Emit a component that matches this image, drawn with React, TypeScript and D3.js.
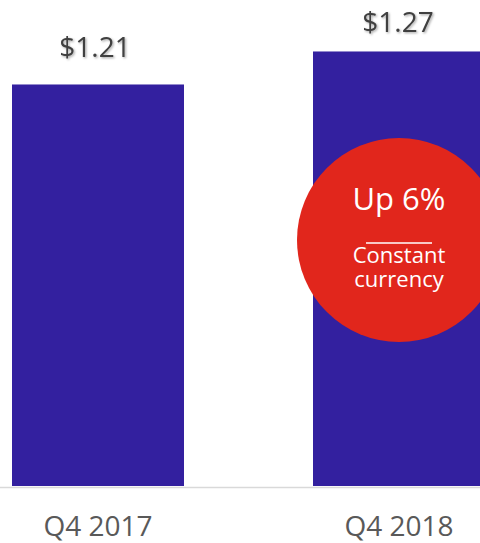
import React from "react";
import * as d3 from "d3";

const categories = ["Q4 2017", "Q4 2018"];
const values = [1.21, 1.27];
const valueLabels = ["$1.21", "$1.27"];
const badgeLines = ["Up 6%", "Constant", "currency"];

const W = 480;
const H = 543;
const FONT = "'Open Sans', 'Noto Sans', sans-serif";

export default function App() {
  const x = d3.scaleBand<string>().domain(categories).range([12, 485]).paddingInner(0.4286).paddingOuter(0);
  const baseY = 486;
  const y = d3.scaleLinear().domain([0.48, 1.3636]).range([baseY, 0]);
  const bw = x.bandwidth();
  const c2 = (x(categories[1]) as number) + bw / 2;
  const cy = 240;
  const labelGap = [27, 19];
  return (
    <svg width={W} height={H} style={{ position: "absolute", left: 0, top: 0, display: "block" }}>
      <defs>
        <filter id="sh" x="-20%" y="-20%" width="140%" height="160%">
          <feDropShadow dx="1.2" dy="1.2" stdDeviation="0.8" floodColor="#000" floodOpacity="0.35" />
        </filter>
      </defs>
      <rect width={W} height={H} fill="#fff" />
      {categories.map((c, i) => (
        <rect key={c} x={x(c)} y={y(values[i])} width={bw} height={baseY - y(values[i])} fill="#33209F" />
      ))}
      <line x1={0} x2={W} y1={baseY + 1.5} y2={baseY + 1.5} stroke="#d9d9d9" strokeWidth={1.5} />
      {categories.map((c, i) => (
        <text key={"v" + c} x={(x(c) as number) + bw / 2 - 3 + i * 2} y={y(values[i]) - labelGap[i]} textAnchor="middle"
          fontFamily={FONT} fontSize={28} fill="#404040" filter="url(#sh)">{valueLabels[i]}</text>
      ))}
      {categories.map((c) => (
        <text key={"c" + c} x={(x(c) as number) + bw / 2} y={536} textAnchor="middle"
          fontFamily={FONT} fontSize={28} fill="#595959">{c}</text>
      ))}
      <circle cx={c2} cy={cy} r={102} fill="#E1261C" />
      <text x={c2} y={cy - 30} textAnchor="middle" fontFamily={FONT} fontSize={31} fill="#fff">{badgeLines[0]}</text>
      <line x1={c2 - 33} x2={c2 + 33} y1={cy + 3} y2={cy + 3} stroke="#fff" strokeWidth={1.5} />
      <text x={c2} y={cy + 23} textAnchor="middle" fontFamily={FONT} fontSize={22} fill="#fff">{badgeLines[1]}</text>
      <text x={c2} y={cy + 47} textAnchor="middle" fontFamily={FONT} fontSize={22} fill="#fff">{badgeLines[2]}</text>
    </svg>
  );
}
